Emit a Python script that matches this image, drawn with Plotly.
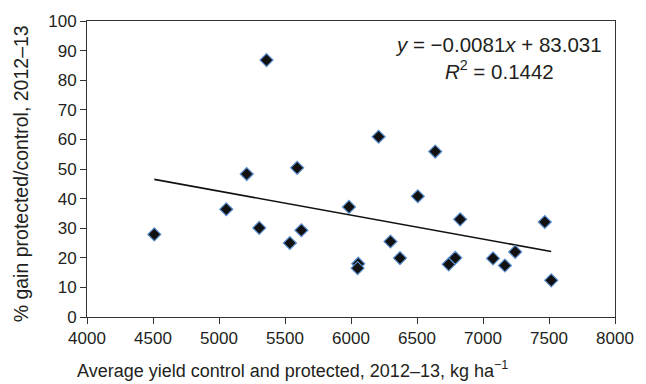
import plotly.graph_objects as go

# Data
avg_yield = [4510, 5055, 5210, 5305, 5360, 5537, 5592, 5624, 5985, 6055, 6050,
             6209, 6299, 6371, 6506, 6638, 6740, 6790, 6827, 7076, 7166, 7244,
             7468, 7517]
pct_gain = [27.9, 36.4, 48.3, 30.1, 86.8, 25.0, 50.4, 29.3, 37.2, 18.0, 16.5,
            60.9, 25.5, 19.9, 40.8, 55.9, 17.8, 20.0, 33.0, 19.8, 17.4, 22.0,
            32.1, 12.4]

# Linear trend displayed on the chart
slope = -0.0081
intercept = 83.031
trend_x = [min(avg_yield), max(avg_yield)]
trend_y = [slope * v + intercept for v in trend_x]

x_ticks = [4000, 4500, 5000, 5500, 6000, 6500, 7000, 7500, 8000]
y_ticks = [0, 10, 20, 30, 40, 50, 60, 70, 80, 90, 100]

font_family = "Liberation Sans, Arial, sans-serif"
text_color = "#231f20"

W, H = 646, 384
ML, MR, MT, MB = 87, 24, 20, 67
pw = W - ML - MR
ph = H - MT - MB


def px_to_paper(px, py):
    return (px - ML) / pw, (H - py - MB) / ph


fig = go.Figure()
fig.add_trace(go.Scatter(
    x=trend_x, y=trend_y, mode="lines",
    line=dict(color="#111111", width=1.6),
    hoverinfo="skip", showlegend=False))
fig.add_trace(go.Scatter(
    x=avg_yield, y=pct_gain, mode="markers",
    marker=dict(symbol="diamond", size=10, color="#111111",
                line=dict(color="#5b8fd0", width=1.2)),
    showlegend=False))

axis_common = dict(
    showline=True, linecolor="#333333", linewidth=1, mirror=True,
    ticks="outside", ticklen=6, tickcolor="#333333", showgrid=False,
    zeroline=False, tickfont=dict(family=font_family, size=17, color=text_color))

fig.update_xaxes(range=[4000, 8000], tickvals=x_ticks, **axis_common)
fig.update_yaxes(range=[0, 100], tickvals=y_ticks, **axis_common)

ann_x, ann_y = px_to_paper(611, 57)
fig.add_annotation(
    x=ann_x, y=ann_y, xref="paper", yref="paper", xanchor="right", yanchor="middle",
    text="<i>y</i> = \u22120.0081<i>x</i> + 83.031<br><i>R</i><sup>2</sup> = 0.1442",
    showarrow=False, align="center",
    font=dict(family=font_family, size=20.5, color=text_color))

xt_x, xt_y = px_to_paper(295, 370)
fig.add_annotation(
    x=xt_x, y=xt_y, xref="paper", yref="paper", xanchor="center", yanchor="middle",
    text="Average yield control and protected, 2012\u201313, kg ha<sup>\u22121</sup>",
    showarrow=False, font=dict(family=font_family, size=18, color=text_color))

yt_x, yt_y = px_to_paper(21, 173)
fig.add_annotation(
    x=yt_x, y=yt_y, xref="paper", yref="paper", xanchor="center", yanchor="middle",
    textangle=-90,
    text="% gain protected/control, 2012\u201313",
    showarrow=False, font=dict(family=font_family, size=19.5, color=text_color))

fig.update_layout(
    width=W, height=H,
    margin=dict(l=ML, r=MR, t=MT, b=MB),
    plot_bgcolor="white", paper_bgcolor="white",
    font=dict(family=font_family, color=text_color))

fig.write_html("out.html")
